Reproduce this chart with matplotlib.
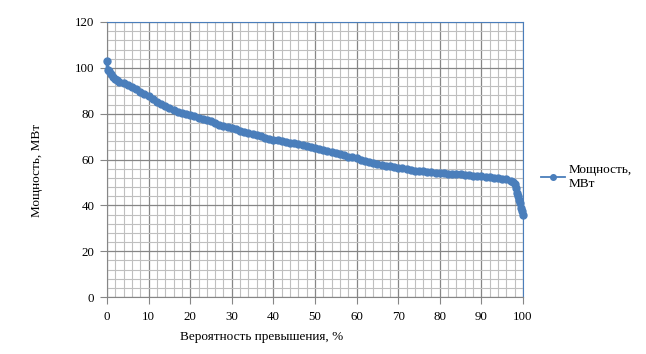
import matplotlib
matplotlib.use("Agg")
import matplotlib.pyplot as plt
from matplotlib.ticker import MultipleLocator
from matplotlib.lines import Line2D

plt.rcParams['font.family'] = ['Liberation Serif', 'DejaVu Serif']

prob = [0, 0.2, 0.5, 1, 1.5, 2, 2.5, 3, 4, 5, 6, 7, 8, 9, 10, 11, 12, 13, 14, 15,
        16, 17, 18, 19, 20, 21, 22, 23, 24, 25, 26, 27, 28, 29, 30, 31, 32, 33, 34, 35,
        36, 37, 38, 39, 40, 41, 42, 43, 44, 45, 46, 47, 48, 49, 50, 51, 52, 53, 54, 55,
        56, 57, 58, 59, 60, 61, 62, 63, 64, 65, 66, 67, 68, 69, 70, 71, 72, 73, 74, 75,
        76, 77, 78, 79, 80, 81, 82, 83, 84, 85, 86, 87, 88, 89, 90, 91, 92, 93, 94, 95,
        96, 97, 97.5, 98, 98.3, 98.5, 98.8, 99, 99.3, 99.6, 99.8, 100]
power = [103, 99, 98.5, 97.5, 96.2, 95.2, 94.5, 93.8, 93.2, 92.7, 91.8, 90.6, 89.5, 88.4, 87.5, 86.4, 85.2, 84.3, 83.4, 82.4,
         81.6, 80.9, 80.3, 79.8, 79.3, 78.8, 78.2, 77.7, 77.1, 76.6, 76.0, 75.2, 74.5, 74.0, 73.6, 73.2, 72.5, 71.9, 71.5, 71.1,
         70.6, 70.1, 69.6, 69.1, 68.7, 68.4, 68.0, 67.6, 67.3, 67.0, 66.6, 66.2, 65.8, 65.4, 65.0, 64.6, 64.1, 63.6, 63.1, 62.7,
         62.3, 61.8, 61.3, 60.9, 60.5, 60.0, 59.5, 59.0, 58.5, 58.0, 57.5, 57.2, 57.0, 56.8, 56.5, 56.1, 55.7, 55.4, 55.2, 55.0,
         54.8, 54.6, 54.4, 54.2, 54.0, 53.9, 53.8, 53.7, 53.6, 53.5, 53.3, 53.2, 53.0, 52.9, 52.7, 52.5, 52.3, 52.1, 51.9, 51.7,
         51.3, 50.8, 50.4, 49.5, 47.5, 45.5, 44.0, 42.5, 41.0, 39.0, 37.5, 36.0]

series_label = "Мощность,\nМВт"
xlabel = "Вероятность превышения, %"
ylabel = "Мощность, МВт"

blue = "#4A7EBB"
fig = plt.figure(figsize=(6.46, 3.54), dpi=100)
ax = fig.add_axes([107/646, 1-297/354, (523-107)/646, (297-22)/354])

ax.set_xlim(0, 100)
ax.set_ylim(0, 120)
ax.xaxis.set_major_locator(MultipleLocator(10))
ax.xaxis.set_minor_locator(MultipleLocator(2))
ax.yaxis.set_major_locator(MultipleLocator(20))
ax.yaxis.set_minor_locator(MultipleLocator(4))
ax.grid(which='minor', color='#BFBFBF', linewidth=0.8)
ax.grid(which='major', color='#868686', linewidth=0.9)
ax.set_axisbelow(True)

ax.plot(prob, power, color=blue, linewidth=2.6, marker='o', markersize=5,
        markeredgecolor=blue, markerfacecolor=blue, zorder=3, clip_on=False)

for s in ['left', 'bottom']:
    ax.spines[s].set_color('#868686')
for s in ['top', 'right']:
    ax.spines[s].set_color(blue)
ax.tick_params(which='major', direction='out', length=5, color='#868686',
               labelsize=9.3, labelcolor='#000000', pad=4)
ax.tick_params(axis='x', which='major', pad=5)
ax.tick_params(which='minor', length=0)

fig.text(262/646, 1-337/354, xlabel, ha='center', va='center', fontsize=9.5)
fig.text(37/646, 1-170/354, ylabel, ha='center', va='center', fontsize=9.5, rotation=90)

handle = Line2D([], [], color=blue, linewidth=1.3, marker='o', markersize=4,
                markeredgecolor=blue, markerfacecolor=blue)
leg = fig.legend([handle], [series_label], loc='center left',
                 bbox_to_anchor=(541/646, 1-177/354), frameon=False,
                 fontsize=9.5, handlelength=1.8, handletextpad=0.3, borderpad=0,
                 borderaxespad=0)
for t in leg.get_texts():
    t.set_linespacing(1.3)

fig.savefig("out.png", dpi=100)
